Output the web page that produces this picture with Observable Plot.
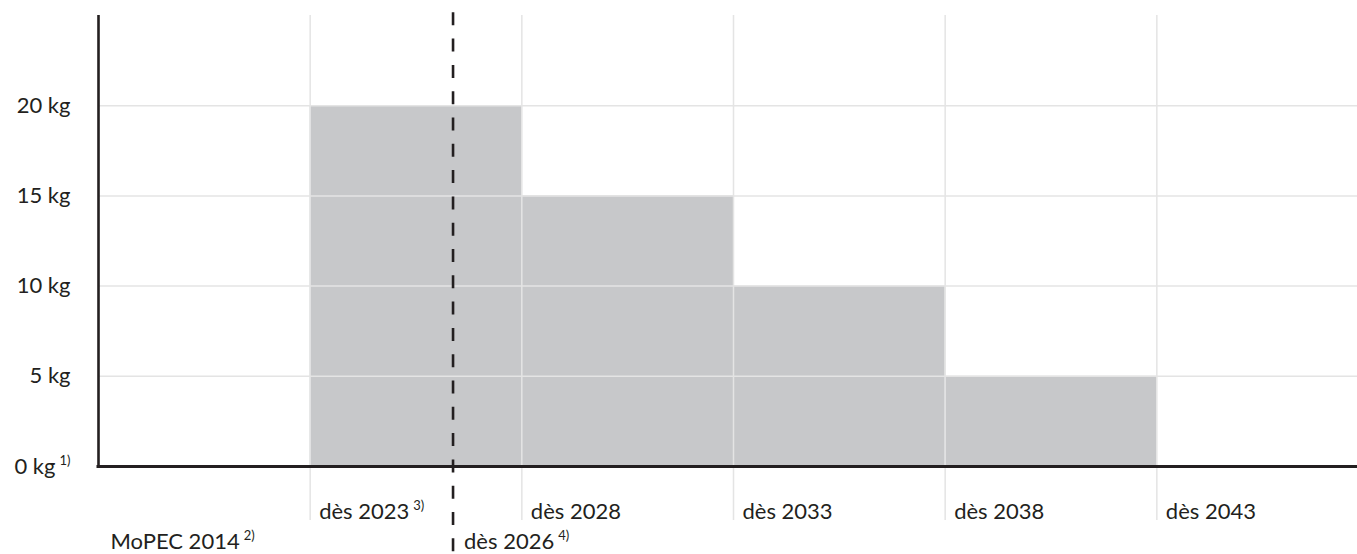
<!DOCTYPE html>
<html><head><meta charset="utf-8">
<script src="https://cdn.jsdelivr.net/npm/d3@7"></script>
<script src="https://cdn.jsdelivr.net/npm/@observablehq/plot@0.6"></script>
<style>body{margin:0;background:#fff} #chart svg{overflow:hidden;display:block}</style>
</head><body><div id="chart"></div>
<script>
// Data
const periods = ["MoPEC 2014", "dès 2023", "dès 2028", "dès 2033", "dès 2038", "dès 2043"];
const periodNotes = ["2)", "3)", "", "", "", ""];
const labelRow = [2, 1, 1, 1, 1, 1];
const limitsKg = [0, 20, 15, 10, 5, 0];
const yTicks = [0, 5, 10, 15, 20];
const yTickLabels = ["0 kg", "5 kg", "10 kg", "15 kg", "20 kg"];
const yTickNotes = ["1)", "", "", "", ""];
const markerLabel = "dès 2026";
const markerNote = "4)";
const markerPos = 1.675;

const ink = "#231f20";
const font = "Lato, 'Open Sans', sans-serif";
const fs = 22;

const bars = periods.map((p, i) => ({x1: i, x2: i + 1, y: limitsKg[i]}));
const ticks = yTicks.map((v, i) => ({v, label: yTickLabels[i], note: yTickNotes[i]}));
const labels = periods.map((p, i) => ({i, label: p, note: periodNotes[i], row: labelRow[i]}));
const row1 = labels.filter(d => d.row === 1);
const row2 = labels.filter(d => d.row === 2);
const markerLabels = [{x: markerPos, label: markerLabel, note: markerNote}];

const chart = Plot.plot({
  width: 1357,
  height: 554,
  marginTop: 15,
  marginBottom: 88,
  marginLeft: 98,
  marginRight: 0,
  x: {domain: [0, 6], range: [98, 1368], axis: null},
  y: {domain: [0, 25], axis: null},
  style: {fontFamily: font, background: "#fff"},
  marks: [
    Plot.rectY(bars, {x1: "x1", x2: "x2", y: "y", fill: "#c7c8ca"}),
    Plot.ruleY(yTicks.filter(d => d > 0), {x1: 0, x2: 6, stroke: "#e4e4e4", strokeWidth: 1.5}),
    Plot.ruleX([1, 2, 3, 4, 5], {y1: -3, y2: 25, stroke: "#e4e4e4", strokeWidth: 1.5}),
    Plot.ruleX([markerPos], {y1: 25.15, y2: -4.9, stroke: ink, strokeWidth: 2.6, strokeDasharray: "13,13.3"}),
    Plot.ruleX([0], {y1: 0, y2: 25, stroke: ink, strokeWidth: 2.6}),
    Plot.ruleY([0], {x1: 0, x2: 6, stroke: ink, strokeWidth: 3, strokeLinecap: "square"}),
    Plot.text(ticks, {x: 0, y: "v", text: "label", textAnchor: "end", dx: -28, fontSize: fs, fill: ink, fontFamily: font, className: "sup-ticks"}),
    Plot.text(row1, {x: "i", y: 0, text: "label", textAnchor: "start", dx: 9, dy: 45, fontSize: fs, fill: ink, fontFamily: font, className: "sup-row1"}),
    Plot.text(row2, {x: "i", y: 0, text: "label", textAnchor: "start", dx: 12, dy: 75, fontSize: fs, fill: ink, fontFamily: font, className: "sup-row2"}),
    Plot.text(markerLabels, {x: "x", y: 0, text: "label", textAnchor: "start", dx: 11, dy: 75, fontSize: fs, fill: ink, fontFamily: font, className: "sup-marker"})
  ]
});

// superscript notes appended as tspans
function addNotes(cls, rows) {
  d3.select(chart).selectAll(`g.${cls} text`).each(function(d, k) {
    const idx = typeof d === "number" ? d : k;
    const note = rows[idx] && rows[idx].note;
    if (note) {
      d3.select(this).append("tspan")
        .attr("dx", 4).attr("dy", -9)
        .attr("font-size", 13)
        .text(note);
    }
  });
}
addNotes("sup-ticks", ticks);
addNotes("sup-row1", row1);
addNotes("sup-row2", row2);
addNotes("sup-marker", markerLabels);

document.getElementById("chart").appendChild(chart);
</script>
</body></html>
